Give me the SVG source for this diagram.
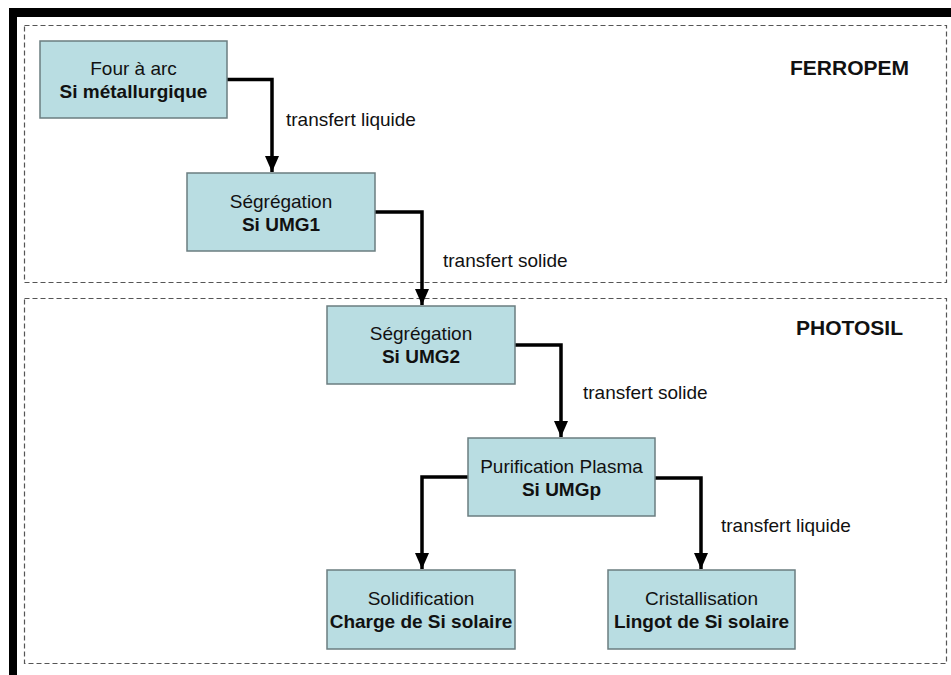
<svg xmlns="http://www.w3.org/2000/svg" width="951" height="675" viewBox="0 0 951 675">
<style>
.frame{fill:#000}
.zone{fill:none;stroke:#555;stroke-width:1.2;stroke-dasharray:5 3}
.box{fill:#b9dde2;stroke:#6b7d80;stroke-width:1.5}
.t{font-family:"Liberation Sans",Arial,sans-serif;font-size:19px;fill:#111;text-anchor:middle}
.b{font-weight:bold}
.lbl{font-family:"Liberation Sans",Arial,sans-serif;font-size:19px;fill:#111}
.zt{font-family:"Liberation Sans",Arial,sans-serif;font-size:21px;font-weight:bold;fill:#111}
.conn{fill:none;stroke:#000;stroke-width:3.5;marker-end:url(#ah)}
</style>
<defs>
<marker id="ah" markerWidth="16" markerHeight="14" refX="16" refY="7" orient="auto" markerUnits="userSpaceOnUse" viewBox="0 0 16 14">
<path d="M0,0 L16,7 L0,14 Z" fill="#000"/>
</marker>
</defs>
<rect width="951" height="675" fill="#fff"/>
<rect class="frame" x="9" y="8" width="942" height="9"/>
<rect class="frame" x="9" y="8" width="8" height="667"/>
<g id="zone-ferropem">
<rect class="zone" x="24.5" y="25.5" width="922" height="257"/>
<text class="zt" x="790" y="75">FERROPEM</text>
</g>
<g id="zone-photosil">
<rect class="zone" x="24.5" y="298.5" width="922" height="365"/>
<text class="zt" x="796" y="335">PHOTOSIL</text>
</g>
<g id="connectors">
<path class="conn" d="M227,79.5 H272 V172"/>
<path class="conn" d="M375,212 H422 V305"/>
<path class="conn" d="M515,345 H561 V437"/>
<path class="conn" d="M468,477 H422 V569"/>
<path class="conn" d="M655,478 H701 V569"/>
<text class="lbl" x="286" y="126">transfert liquide</text>
<text class="lbl" x="443" y="267">transfert solide</text>
<text class="lbl" x="583" y="399">transfert solide</text>
<text class="lbl" x="721" y="532">transfert liquide</text>
</g>
<g id="four">
<rect class="box" x="40" y="41" width="187" height="77"/>
<text class="t" x="133.5" y="75">Four à arc</text>
<text class="t b" x="133.5" y="98">Si métallurgique</text>
</g>
<g id="seg1">
<rect class="box" x="187" y="173" width="188" height="78"/>
<text class="t" x="281" y="208">Ségrégation</text>
<text class="t b" x="281" y="231">Si UMG1</text>
</g>
<g id="seg2">
<rect class="box" x="327" y="306" width="188" height="78"/>
<text class="t" x="421" y="340">Ségrégation</text>
<text class="t b" x="421" y="363">Si UMG2</text>
</g>
<g id="plasma">
<rect class="box" x="468" y="438" width="187" height="78"/>
<text class="t" x="561.5" y="473">Purification Plasma</text>
<text class="t b" x="561.5" y="496">Si UMGp</text>
</g>
<g id="solid">
<rect class="box" x="327" y="570" width="188" height="79"/>
<text class="t" x="421" y="605">Solidification</text>
<text class="t b" x="421" y="628">Charge de Si solaire</text>
</g>
<g id="crist">
<rect class="box" x="608" y="570" width="187" height="79"/>
<text class="t" x="701.5" y="605">Cristallisation</text>
<text class="t b" x="701.5" y="628">Lingot de Si solaire</text>
</g>
</svg>
